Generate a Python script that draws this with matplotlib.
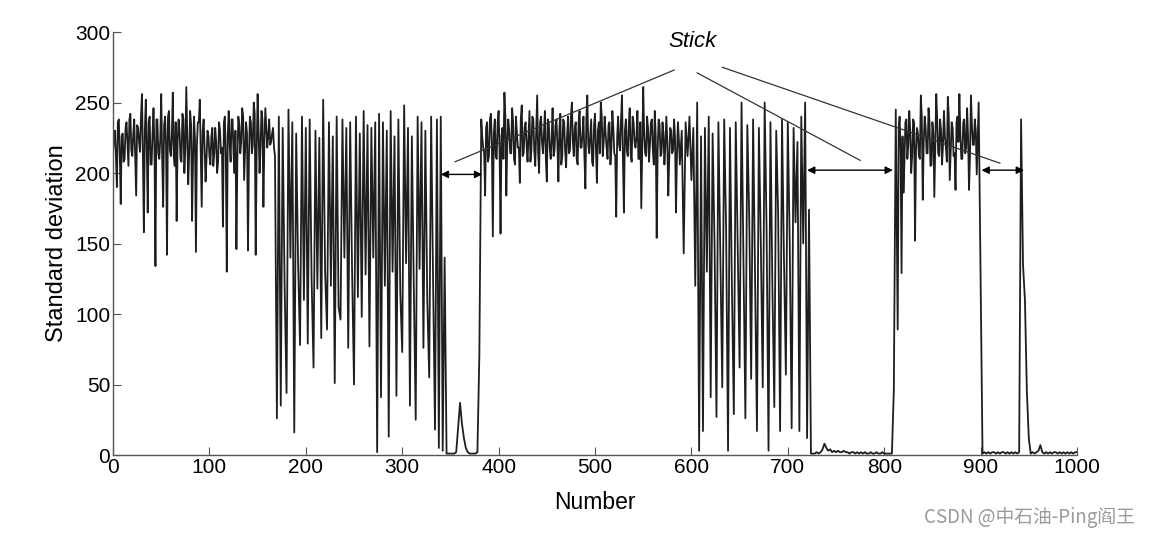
import numpy as np
import matplotlib
matplotlib.use("Agg")
import matplotlib.pyplot as plt

# each segment: (first number, values every 2 numbers)
seg_a_start = 0
seg_a = [215, 230, 190, 238, 178, 228, 210, 236, 205, 242, 212, 238, 184, 232, 215, 256,
         158, 252, 172, 240, 206, 246, 134, 238, 210, 256, 176, 240, 142, 244, 212, 257,
         205, 166, 238, 210, 242, 200, 261, 192, 244, 166, 240, 144, 236, 252, 176, 238,
         194, 230, 212, 226, 205, 232, 200, 236, 214, 162, 240, 130, 244, 208, 238, 200,
         146, 240, 214, 246, 195, 236, 145, 240, 214, 250, 142, 256, 200, 244, 176, 246,
         218, 238, 222, 232, 212]
# in-between samples of the noisy stretch (odd numbers)
seg_a_odd_start = 1
seg_a_odd = [224, 212, 236, 214, 226, 208, 232, 220, 238, 216, 228, 210, 234, 222, 240, 212,
             230, 218, 236, 206, 228, 216, 238, 214, 224, 210, 234, 220, 240, 216, 226, 212,
             236, 222, 230, 208, 238, 218, 228, 214, 234, 210, 224, 220, 236, 212, 230, 218,
             210, 226, 206, 232, 214, 222, 208, 230, 218, 236, 212, 226, 220, 238, 214, 230,
             210, 234, 222, 240, 216, 228, 212, 236, 220, 242, 214, 230, 218, 238, 222, 232,
             226, 220, 228, 218]

seg_b_start = 170
seg_b = [26, 240, 35, 232, 120, 44, 245, 140, 236, 16, 228, 135, 78, 240, 110, 232,
         79, 238, 125, 62, 230, 118, 225, 83, 252, 130, 89, 236, 120, 226, 51, 240,
         105, 96, 238, 140, 232, 76, 236, 130, 50, 240, 112, 228, 98, 244, 128, 234,
         77, 232, 140, 236, 2, 242, 41, 236, 120, 230, 13, 244, 130, 226, 42, 238,
         115, 73, 248, 136, 232, 35, 226, 120, 25, 240, 132, 236, 76, 230, 110, 55,
         240, 125, 18, 238, 5, 240, 3, 140]

seg_c_start = 346
seg_c = [1, 1, 1, 1, 1, 2, 20, 37, 22, 12, 5, 2, 1, 1, 1, 1, 2, 70]

seg_d_start = 382
seg_d = [238, 218, 184, 236, 212, 242, 155, 238, 210, 244, 157, 232, 257, 184, 238, 214,
         246, 210, 240, 218, 193, 248, 214, 236, 208, 244, 216, 238, 205, 255, 200, 240,
         214, 244, 194, 236, 210, 246, 216, 238, 194, 242, 212, 236, 204, 240, 216, 250,
         212, 236, 206, 244, 218, 240, 189, 255, 214, 238, 205, 242, 193, 236, 250, 212,
         240, 218, 234, 206, 244, 214, 169, 240, 216, 255, 172, 238, 212, 246, 208, 236,
         218, 244, 210, 175, 261, 214, 240, 208, 236, 216, 244, 154, 238, 212, 236, 206,
         240, 184, 232, 214, 238, 172, 236, 206]
seg_d_odd_start = 383
seg_d_odd = [226, 214, 232, 208, 238, 220, 228, 212, 236, 216, 226, 210, 240, 222, 230, 214,
             236, 206, 228, 218, 238, 212, 232, 220, 226, 208, 240, 216, 230, 214, 236, 222,
             228, 210, 238, 218, 224, 212, 234, 220, 230, 206, 238, 216, 226, 214, 240, 222,
             232, 210, 236, 218, 228, 212, 238, 220, 226, 208, 234, 216, 230, 214, 240, 222,
             228, 210, 236, 218, 232, 212, 226, 220, 238, 208, 230, 216, 234, 214, 240, 222,
             226, 210, 236, 218, 228, 212, 232, 220, 238, 206, 226, 216, 234, 214, 228, 220,
             222, 210, 230, 216, 226, 212, 224]

seg_e_start = 590
seg_e = [230, 143, 236, 212, 240, 195, 232, 120, 250, 3, 226, 17, 232, 130, 240, 41,
         228, 150, 27, 236, 140, 48, 238, 160, 3, 232, 120, 29, 236, 150, 62, 250,
         140, 26, 234, 168, 54, 238, 130, 17, 232, 150, 48, 250, 160, 3, 236, 120,
         34, 230, 170, 17, 238, 140, 57, 236, 150, 19, 232, 165, 222, 17, 240, 150,
         250, 12, 174, 1]

seg_f_start = 726
seg_f = [1, 1, 2, 1, 2, 4, 8, 5, 3, 4, 2, 3, 2, 3, 2, 2, 3, 2, 2, 1, 2, 2, 1, 2,
         1, 2, 1, 2, 1, 1, 2, 1, 1, 2, 1, 1, 2, 1, 1, 1, 1, 1]

seg_g_start = 810
seg_g = [46, 245, 89, 240, 129, 186, 236, 210, 244, 200, 238, 152, 232, 212, 255, 181,
         240, 214, 246, 205, 236, 183, 256, 214, 238, 206, 244, 218, 254, 195, 236, 212,
         188, 240, 256, 210, 236, 214, 246, 188, 255, 220, 238, 199, 250, 124, 1]
seg_g_odd_start = 815
seg_g_odd = [232, 214, 226, 208, 238, 220, 230, 212, 236, 216, 228, 210, 240, 222, 232, 214,
             236, 206, 228, 218, 238, 212, 230, 220, 226, 208, 240, 216, 232, 214, 236, 222,
             228, 210, 238, 218, 226, 212, 234, 220, 230, 224]

seg_h_start = 904
seg_h = [2, 1, 2, 1, 2, 2, 1, 2, 1, 2, 2, 1, 2, 1, 2, 1, 2, 1, 2, 238, 135, 110, 45, 12,
         1, 2, 1, 2, 3, 7, 2, 1, 2, 1, 2, 1, 2, 2, 1, 2, 1, 2, 1, 2, 1, 2, 1, 2, 2]

segments = [(seg_a_start, seg_a), (seg_a_odd_start, seg_a_odd), (seg_b_start, seg_b),
            (seg_c_start, seg_c), (seg_d_start, seg_d), (seg_d_odd_start, seg_d_odd),
            (seg_e_start, seg_e), (seg_f_start, seg_f), (seg_g_start, seg_g),
            (seg_g_odd_start, seg_g_odd), (seg_h_start, seg_h)]

number = np.concatenate([start + 2 * np.arange(len(v)) for start, v in segments])
std_dev = np.concatenate([np.array(v, dtype=float) for _, v in segments])
order = np.argsort(number, kind="stable")
number, std_dev = number[order], std_dev[order]

# "Stick" annotation: label position, pointer lines, gap arrows (data coords)
stick_label = (601, 293)
stick_lines = [((582, 273), (355, 208)),
               ((606, 271), (775, 209)),
               ((632, 275), (920, 207))]
stick_gaps = [(340, 383, 199), (720, 809, 202), (901, 945, 202)]

fig = plt.figure(figsize=(11.51, 5.37), dpi=100)
ax = fig.add_axes([0.0982, 0.1527, 0.8375, 0.7877])

ax.plot(number, std_dev, color="#1e1e1e", lw=1.3)

for (x0, y0), (x1, y1) in stick_lines:
    ax.plot([x0, x1], [y0, y1], color="#333333", lw=0.9)
for x0, x1, y in stick_gaps:
    ax.annotate("", xy=(x0, y), xytext=(x1, y),
                arrowprops=dict(arrowstyle="<|-|>", color="black", lw=1.0,
                                mutation_scale=11, shrinkA=0, shrinkB=0))
ax.text(*stick_label, "Stick", style="italic", fontsize=16, ha="center", va="center",
        family=["Liberation Sans", "DejaVu Sans"])

ax.set_xlim(0, 1000)
ax.set_ylim(0, 300)
ax.set_xticks(np.arange(0, 1001, 100))
ax.set_yticks(np.arange(0, 301, 50))
for s in ["top", "right"]:
    ax.spines[s].set_visible(False)
for s in ["left", "bottom"]:
    ax.spines[s].set_color("#555555")
    ax.spines[s].set_linewidth(1.0)
ax.tick_params(direction="in", length=6, color="#555555", labelsize=15, pad=2)
for lab in ax.get_xticklabels() + ax.get_yticklabels():
    lab.set_family(["Liberation Sans Narrow", "Liberation Sans", "DejaVu Sans"])

ax.set_xlabel("Number", fontsize=16.5, family=["Liberation Sans", "DejaVu Sans"], labelpad=10)
ax.set_ylabel("Standard deviation", fontsize=17, family=["Liberation Sans", "DejaVu Sans"],
              labelpad=5)

fig.text(0.986, 0.037, "CSDN @中石油-Ping阎王", ha="right", va="center", fontsize=13.5,
         color="#9a9a9a", family=["Noto Sans CJK SC", "DejaVu Sans"])

fig.savefig("out.png", dpi=100)
